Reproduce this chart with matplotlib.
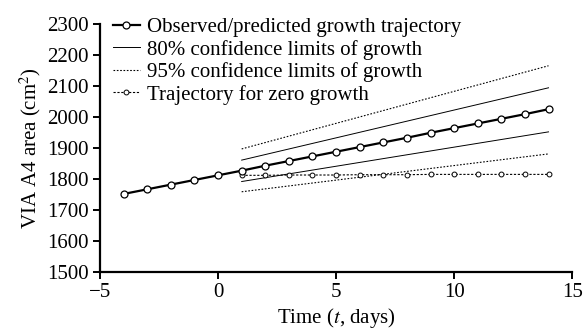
import numpy as np
import matplotlib.pyplot as plt

plt.rcParams['font.family'] = ['Liberation Serif', 'DejaVu Serif']
plt.rcParams['mathtext.fontset'] = 'stix'

# observed / predicted trajectory
t_obs = [-4, -3, -2, -1, 0, 1, 2, 3, 4, 5, 6, 7, 8, 9, 10, 11, 12, 13, 14]
area_obs = [1752, 1767, 1782, 1797, 1812, 1827, 1843, 1858, 1873, 1888,
            1903, 1918, 1933, 1949, 1964, 1979, 1994, 2009, 2025]

# confidence limits (t = 1 .. 14)
t_ci = [1, 14]
ci80_upper = [1861, 2094]
ci80_lower = [1792, 1952]
ci95_upper = [1897, 2165]
ci95_lower = [1759, 1881]

# zero growth trajectory
t_zero = [1, 2, 3, 4, 5, 6, 7, 8, 9, 10, 11, 12, 13, 14]
area_zero = [1812, 1812, 1813, 1813, 1813, 1814, 1814, 1814, 1815, 1815,
             1815, 1815, 1815, 1815]

fig = plt.figure(figsize=(5.85, 3.36), dpi=100)
ax = fig.add_axes([0.171, 0.19, 0.807, 0.739])

ax.plot(t_obs, area_obs, color='black', lw=1.6, marker='o', ms=5,
        mfc='white', mec='black', mew=0.9,
        label='Observed/predicted growth trajectory', zorder=4)
ax.plot(t_ci, ci80_upper, color='black', lw=0.7,
        label='80% confidence limits of growth')
ax.plot(t_ci, ci80_lower, color='black', lw=0.7)
ax.plot(t_ci, ci95_upper, color='black', lw=0.8, ls=(0, (1.5, 1.5)),
        label='95% confidence limits of growth')
ax.plot(t_ci, ci95_lower, color='black', lw=0.8, ls=(0, (1.5, 1.5)))
ax.plot(t_zero, area_zero, color='black', lw=0.8, ls=(0, (2, 1.5)),
        marker='o', ms=3.5, mfc='white', mec='black', mew=0.7,
        label='Trajectory for zero growth', zorder=3)

ax.set_xlim(-5, 15)
ax.set_ylim(1500, 2300)
ax.set_xticks([-5, 0, 5, 10, 15])
ax.set_xticklabels(['\u22125', '0', '5', '10', '15'])
ax.set_yticks(range(1500, 2301, 100))

for s in ['top', 'right']:
    ax.spines[s].set_visible(False)
ax.spines['left'].set_linewidth(1.6)
ax.spines['bottom'].set_linewidth(1.6)
ax.tick_params(direction='out', length=5, width=1.4, labelsize=15, pad=3)

ax.set_xlabel('Time ($t$, days)', fontsize=15, labelpad=3)
ax.set_ylabel('VIA A4 area (cm$^2$)', fontsize=15, labelpad=3)

ax.legend(loc='upper left', bbox_to_anchor=(0.0, 1.075), frameon=False,
          fontsize=15, handlelength=1.3, handletextpad=0.35,
          labelspacing=0.12, borderaxespad=0.2)

fig.savefig('out.png', dpi=100)
